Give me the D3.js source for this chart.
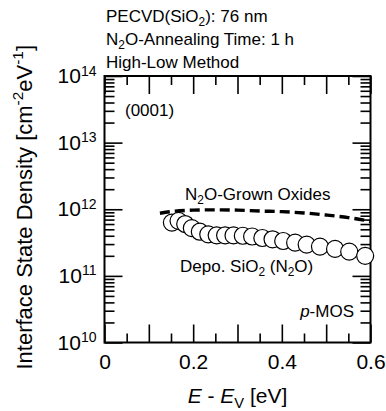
<!DOCTYPE html>
<html>
<head>
<meta charset="utf-8">
<script src="https://cdn.jsdelivr.net/npm/d3@7"></script>
<style>
  body { margin: 0; background: #fff; }
  svg { display: block; font-family: "Liberation Sans", Arial, sans-serif; }
</style>
</head>
<body>
<script>
// Interface state density vs E - Ev (circles: deposited SiO2, dashed: N2O-grown)
const energy = [0.152, 0.167, 0.182, 0.197, 0.215, 0.234, 0.253, 0.272, 0.291, 0.312,
                0.333, 0.356, 0.379, 0.403, 0.430, 0.456, 0.486, 0.520, 0.552, 0.588];
const depoDit = [6.3e11, 6.7e11, 6.0e11, 5.2e11, 4.6e11, 4.2e11, 4.06e11, 4.06e11, 4.05e11, 4.0e11,
                 3.9e11, 3.7e11, 3.54e11, 3.34e11, 3.15e11, 2.95e11, 2.75e11, 2.54e11, 2.31e11, 2.0e11];

const grownE = [0.125, 0.15, 0.2, 0.25, 0.3, 0.35, 0.4, 0.45, 0.5, 0.55, 0.6];
const grownDit = [8.7e11, 9.2e11, 9.7e11, 9.8e11, 9.7e11, 9.4e11, 9.2e11, 8.8e11, 8.2e11, 7.5e11, 6.6e11];

const xTicks = [0, 0.2, 0.4, 0.6];
const yTicks = [1e10, 1e11, 1e12, 1e13, 1e14];

const width = 386, height = 411;
const mLeft = 104.5, mRight = 370.5, mTop = 76, mBottom = 342.5;

const svg = d3.select('body').append('svg')
    .attr('width', width)
    .attr('height', height);

const x = d3.scaleLinear().domain([0, 0.6]).range([mLeft, mRight]);
const y = d3.scaleLog().domain([1e10, 1e14]).range([mBottom, mTop]);

const xMajor = d3.range(0, 0.61, 0.1);
const xMinor = d3.range(0.05, 0.6, 0.1);
const yMinor = [];
for (let e = 10; e < 14; e++) for (let m = 2; m <= 9; m++) yMinor.push(m * Math.pow(10, e));

function styleAxis(g) {
    g.select('.domain').remove();
    g.selectAll('.tick line').attr('stroke', '#000').attr('stroke-width', 1.6);
}

// bottom
svg.append('g').attr('transform', `translate(0,${mBottom})`)
    .call(d3.axisBottom(x).tickValues(xMajor).tickSizeInner(-18).tickPadding(12)
        .tickFormat(d => xTicks.some(t => Math.abs(t - d) < 1e-9) ? d3.format('~g')(+d.toFixed(1)) : ''))
    .call(styleAxis)
    .call(g => g.selectAll('.tick text').attr('font-size', 21).attr('fill', '#000')
        .attr('font-family', '"Liberation Sans", Arial, sans-serif'));
svg.append('g').attr('transform', `translate(0,${mBottom})`)
    .call(d3.axisBottom(x).tickValues(xMinor).tickSizeInner(-9).tickFormat(''))
    .call(styleAxis);

// top
svg.append('g').attr('transform', `translate(0,${mTop})`)
    .call(d3.axisTop(x).tickValues(xMajor).tickSizeInner(-18).tickFormat(''))
    .call(styleAxis);
svg.append('g').attr('transform', `translate(0,${mTop})`)
    .call(d3.axisTop(x).tickValues(xMinor).tickSizeInner(-9).tickFormat(''))
    .call(styleAxis);

// left
svg.append('g').attr('transform', `translate(${mLeft},0)`)
    .call(d3.axisLeft(y).tickValues(yTicks).tickSizeInner(-18).tickPadding(8).tickFormat(''))
    .call(styleAxis)
    .call(g => g.selectAll('.tick text').each(function(d) {
        const t = d3.select(this)
            .attr('font-size', 21).attr('fill', '#000')
            .attr('font-family', '"Liberation Sans", Arial, sans-serif');
        t.append('tspan').text('10');
        t.append('tspan').attr('dy', '-0.55em').attr('font-size', 14).text(Math.round(Math.log10(d)));
    }));
svg.append('g').attr('transform', `translate(${mLeft},0)`)
    .call(d3.axisLeft(y).tickValues(yMinor).tickSizeInner(-10).tickFormat(''))
    .call(styleAxis);

// right
svg.append('g').attr('transform', `translate(${mRight},0)`)
    .call(d3.axisRight(y).tickValues(yTicks).tickSizeInner(-18).tickFormat(''))
    .call(styleAxis);
svg.append('g').attr('transform', `translate(${mRight},0)`)
    .call(d3.axisRight(y).tickValues(yMinor).tickSizeInner(-10).tickFormat(''))
    .call(styleAxis);

// frame
svg.append('rect')
    .attr('x', mLeft).attr('y', mTop)
    .attr('width', mRight - mLeft).attr('height', mBottom - mTop)
    .attr('fill', 'none').attr('stroke', '#000').attr('stroke-width', 2);

// N2O-grown oxides (dashed)
const line = d3.line()
    .x((d, i) => x(grownE[i]))
    .y(d => y(d))
    .curve(d3.curveMonotoneX);
svg.append('path')
    .datum(grownDit)
    .attr('d', line)
    .attr('fill', 'none')
    .attr('stroke', '#000')
    .attr('stroke-width', 3.4)
    .attr('stroke-dasharray', '10,5');

// deposited SiO2 circles
svg.append('g').selectAll('circle')
    .data(depoDit)
    .enter()
    .append('circle')
    .attr('cx', (d, i) => x(energy[i]))
    .attr('cy', d => y(d))
    .attr('r', 8.5)
    .attr('fill', '#fff')
    .attr('stroke', '#000')
    .attr('stroke-width', 1.2);

// texts
function label(xp, yp, size, parts, anchor) {
    const t = svg.append('text')
        .attr('x', xp).attr('y', yp)
        .attr('font-size', size)
        .attr('text-anchor', anchor || 'start');
    parts.forEach(p => {
        const s = t.append('tspan').text(p.t);
        if (p.sub) s.attr('font-size', size * 0.7).attr('dy', size * 0.22);
        if (p.up) s.attr('dy', -size * 0.22);
        if (p.sup) s.attr('font-size', size * 0.7).attr('dy', -size * 0.4);
        if (p.down) s.attr('dy', size * 0.4);
        if (p.it) s.attr('font-style', 'italic');
    });
    return t;
}

label(106, 22, 17, [{t: 'PECVD(SiO'}, {t: '2', sub: true}, {t: '): 76 nm', up: true}]);
label(106, 45, 17, [{t: 'N'}, {t: '2', sub: true}, {t: 'O-Annealing Time: 1 h', up: true}]);
label(106, 68, 17, [{t: 'High-Low Method'}]);

label(125, 116, 17, [{t: '(0001)'}]);
label(185, 200, 17, [{t: 'N'}, {t: '2', sub: true}, {t: 'O-Grown Oxides', up: true}]);
label(180, 272, 17, [{t: 'Depo. SiO'}, {t: '2', sub: true}, {t: ' (N', up: true}, {t: '2', sub: true}, {t: 'O)', up: true}]);
label(354, 317, 17, [{t: 'p', it: true}, {t: '-MOS'}], 'end');

label((mLeft + mRight) / 2, 403, 21, [{t: 'E', it: true}, {t: ' - '}, {t: 'E', it: true}, {t: 'V', sub: true}, {t: ' [eV]', up: true}], 'middle');

label(0, 0, 22, [{t: 'Interface State Density [cm'}, {t: '-2', sup: true}, {t: 'eV', down: true},
                 {t: '-1', sup: true}, {t: ']', down: true}], 'middle')
    .attr('transform', `translate(32,${(mTop + mBottom) / 2 - 2}) rotate(-90)`);
</script>
</body>
</html>
